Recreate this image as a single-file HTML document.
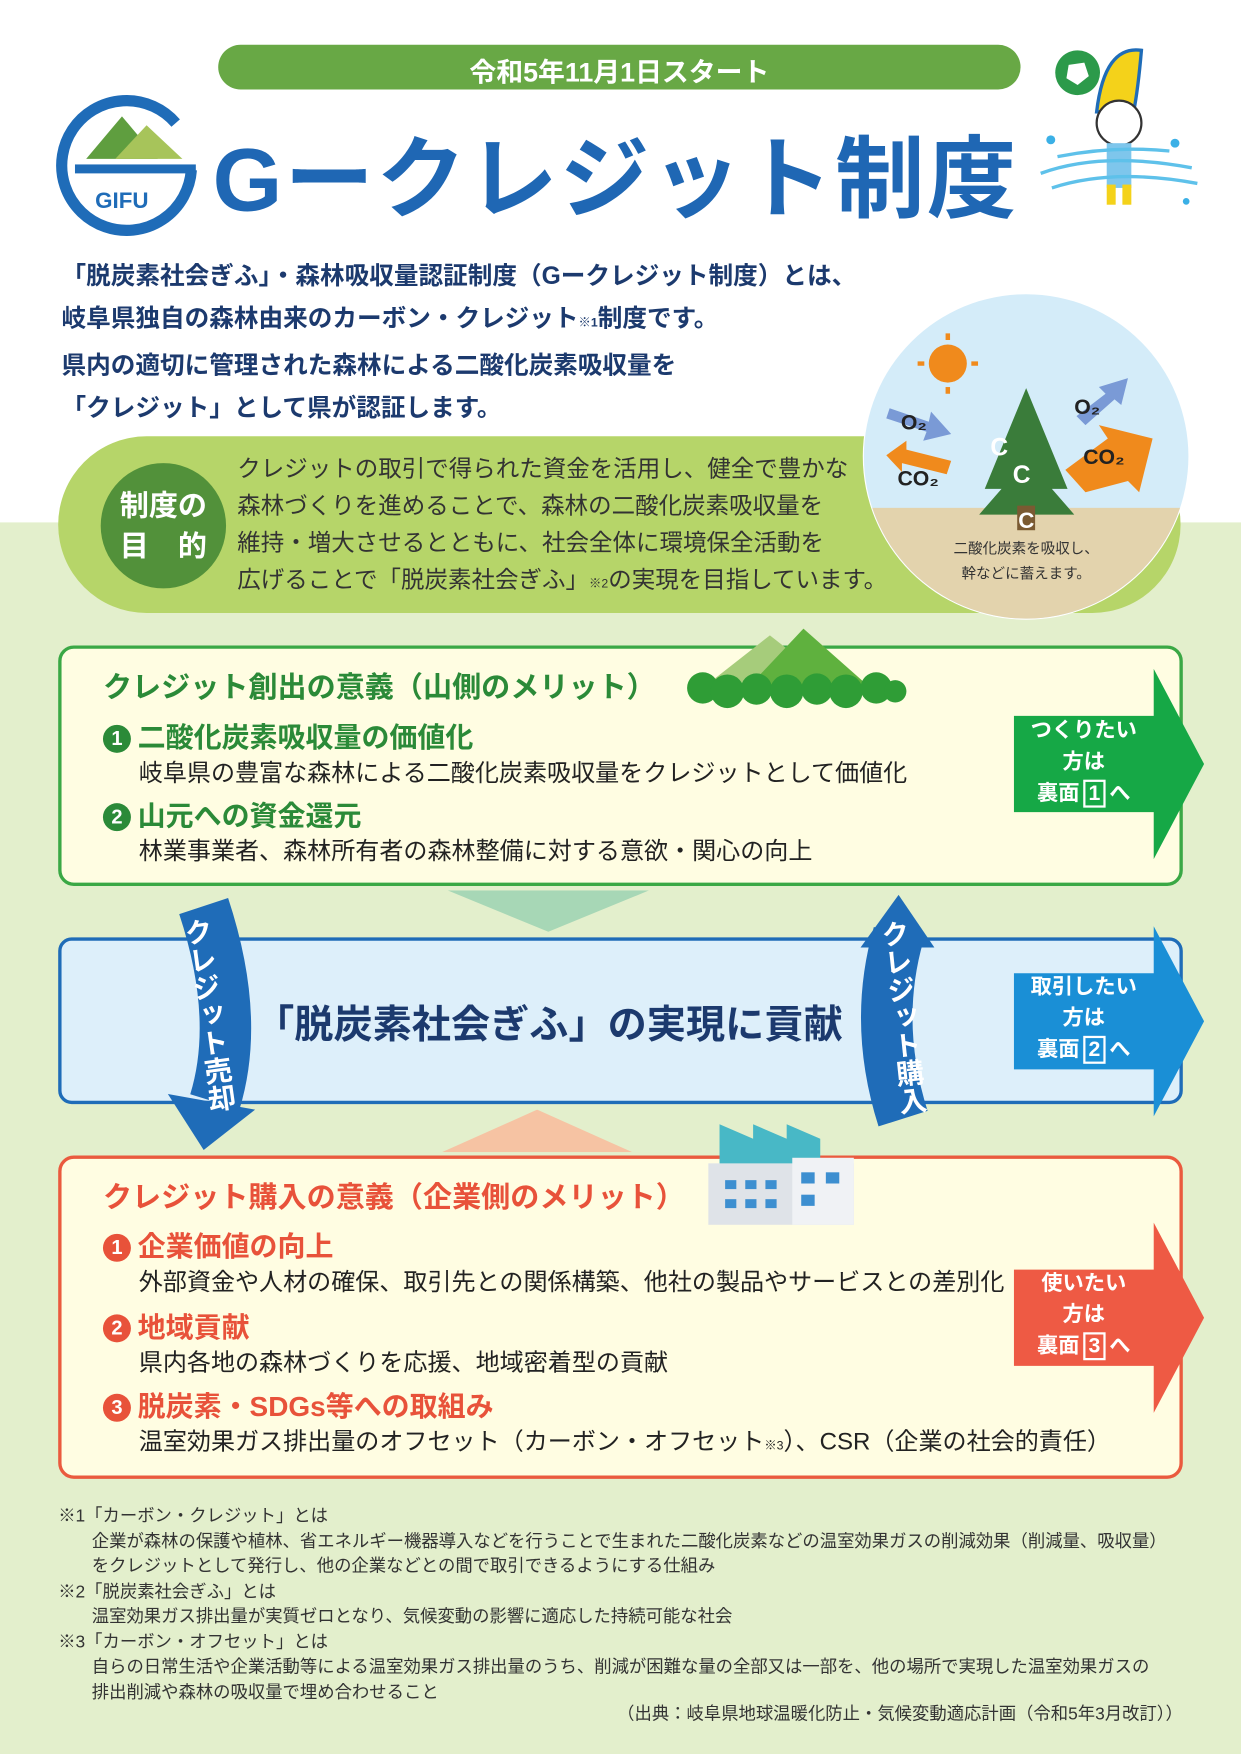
<!DOCTYPE html>
<html><head><meta charset="utf-8"><style>
html,body{margin:0;padding:0;background:#fff;}
body{width:1241px;height:1754px;overflow:hidden;position:relative;font-family:"Liberation Sans","Noto Sans CJK JP",sans-serif;}
#w{position:absolute;left:0;top:0;width:1109px;height:1568px;transform:scale(1.11903,1.11862);transform-origin:0 0;}
.a{position:absolute;white-space:nowrap;}
.b{font-weight:bold;}
.n{display:inline-block;width:25px;height:25px;border-radius:13px;color:#fff;font-size:18px;text-align:center;line-height:25px;vertical-align:2px;margin-right:6px}
</style></head><body><div id="w">
<div class="a" style="left:0;top:467px;width:1109px;height:1101px;background:#e3efcc"></div>
<div class="a" style="left:195px;top:40px;width:717px;height:40px;border-radius:20px;background:#68a845"></div>
<div class="a b" style="left:195px;top:45px;width:717px;text-align:center;color:#fff;font-size:24px;">令和5年11月1日スタート</div>
<svg class="a" style="left:45px;top:80px" width="140" height="135">
<path d="M112 30 A58 58 0 1 0 126 72" fill="none" stroke="#1f6cb8" stroke-width="10"/>
<polygon points="32,62 64,24 96,62" fill="#5f9e3f"/><polygon points="58,62 86,32 118,62" fill="#a7c45a"/>
<rect x="22" y="67" width="108" height="8" fill="#1f6cb8"/>
<text x="40" y="106" font-size="20" font-weight="bold" fill="#1f6cb8" font-family="Liberation Sans">GIFU</text>
</svg>
<div class="a b" style="left:190px;top:96px;font-size:80px;color:#1f67b4;letter-spacing:2px;">Gークレジット制度</div>
<svg class="a" style="left:925px;top:40px" width="150" height="150">
<circle cx="38" cy="25" r="20" fill="#2c9a4a"/><path d="M30 18 l14 -2 l4 12 l-10 8 l-10 -6z" fill="#fff"/>
<path d="M55 60 Q62 0 95 5 Q92 40 88 60z" fill="#f4d21a" stroke="#1f6cb8" stroke-width="3"/>
<circle cx="75" cy="70" r="20" fill="#fff" stroke="#333" stroke-width="2"/>
<rect x="64" y="88" width="22" height="40" fill="#7ec6ec"/><rect x="64" y="125" width="8" height="18" fill="#f4d21a"/><rect x="78" y="125" width="8" height="18" fill="#f4d21a"/>
<path d="M5 115 Q60 95 140 110 M15 128 Q70 110 145 124 M20 100 Q70 90 120 95" stroke="#5ec1ea" stroke-width="3" fill="none"/>
<circle cx="14" cy="85" r="4" fill="#3bb0e6"/><circle cx="125" cy="88" r="4" fill="#3bb0e6"/><circle cx="135" cy="140" r="3" fill="#3bb0e6"/>
</svg>
<div class="a b" style="left:55px;top:228px;font-size:22px;line-height:37.5px;color:#1c3a6e;">「脱炭素社会ぎふ」・森林吸収量認証制度（Gークレジット制度）とは、<br>岐阜県独自の森林由来のカーボン・クレジット<span style="font-size:11px">※1</span>制度です。<br>県内の適切に管理された森林による二酸化炭素吸収量を<br>「クレジット」として県が認証します。</div>
<div class="a" style="left:52px;top:390px;width:1003px;height:158px;border-radius:79px;background:#b6d569"></div>
<div class="a" style="left:90px;top:414px;width:112px;height:112px;border-radius:56px;background:#52913a"></div>
<div class="a b" style="left:90px;top:434px;width:112px;text-align:center;color:#fff;font-size:26px;line-height:36px;">制度の<br>目　的</div>
<div class="a" style="left:212px;top:403px;font-size:21px;line-height:33px;color:#333;">クレジットの取引で得られた資金を活用し、健全で豊かな<br>森林づくりを進めることで、森林の二酸化炭素吸収量を<br>維持・増大させるとともに、社会全体に環境保全活動を<br>広げることで「脱炭素社会ぎふ」<span style="font-size:11px">※2</span>の実現を目指しています。</div>
<svg class="a" style="left:770px;top:262px" width="295" height="295">
<defs><clipPath id="c"><circle cx="147" cy="146" r="145"/></clipPath></defs>
<circle cx="147" cy="146" r="146" fill="#fff"/>
<g clip-path="url(#c)"><rect width="295" height="295" fill="#d4ecf9"/><rect y="192" width="295" height="110" fill="#e3d3ad"/></g>
<circle cx="77" cy="63" r="17" fill="#f08a1c"/><g stroke="#f08a1c" stroke-width="4"><line x1="77" y1="36" x2="77" y2="42"/><line x1="77" y1="84" x2="77" y2="90"/><line x1="50" y1="63" x2="56" y2="63"/><line x1="98" y1="63" x2="104" y2="63"/></g>
<polygon points="147,85 110,175 125,175 105,198 190,198 170,175 184,175" fill="#3a7c3a"/>
<rect x="139" y="190" width="16" height="22" fill="#7a5a32"/>
<text x="115" y="145" font-size="22" fill="#fff" font-weight="bold">C</text><text x="135" y="170" font-size="22" fill="#fff" font-weight="bold">C</text><text x="140" y="210" font-size="20" fill="#fff" font-weight="bold">C</text>
<polygon points="25,103 60,115 62,106 80,126 55,132 58,124 22,112" fill="#7a9ad6"/>
<polygon points="192,110 218,90 212,84 238,76 232,100 226,95 200,118" fill="#7a9ad6"/>
<polygon points="22,145 40,132 40,140 80,150 76,162 36,152 36,160" fill="#f08a1c"/>
<polygon points="182,158 220,130 212,118 260,130 248,178 238,168 200,178" fill="#f08a1c"/>
<text x="35" y="122" font-size="19" font-weight="bold" fill="#222">O₂</text><text x="190" y="108" font-size="19" font-weight="bold" fill="#222">O₂</text>
<text x="32" y="172" font-size="19" font-weight="bold" fill="#222">CO₂</text><text x="198" y="153" font-size="19" font-weight="bold" fill="#222">CO₂</text>
<text x="147" y="233" font-size="13" fill="#333" text-anchor="middle">二酸化炭素を吸収し、</text><text x="147" y="255" font-size="13" fill="#333" text-anchor="middle">幹などに蓄えます。</text>
</svg>
<div class="a" style="left:52px;top:577px;width:999px;height:209px;border:3px solid #3aa845;border-radius:14px;background:#fffde2"></div>
<svg class="a" style="left:608px;top:560px" width="205" height="75"><polygon points="20,55 80,8 140,55" fill="#a6cc7b"/><polygon points="60,55 110,2 170,55" fill="#5fb13e"/><g fill="#2f9d36"><circle cx="20" cy="55" r="14"/><circle cx="42" cy="58" r="15"/><circle cx="68" cy="56" r="14"/><circle cx="95" cy="58" r="15"/><circle cx="122" cy="56" r="14"/><circle cx="148" cy="58" r="15"/><circle cx="175" cy="55" r="14"/><circle cx="192" cy="58" r="10"/></g></svg>
<div class="a b" style="left:92px;top:594px;font-size:26px;color:#2b8a38;">クレジット創出の意義（山側のメリット）</div>
<div class="a b" style="left:92px;top:640px;font-size:25px;color:#2b8a38;"><span class="n" style="background:#2b8a38">1</span>二酸化炭素吸収量の価値化</div>
<div class="a" style="left:124px;top:674px;font-size:21.5px;color:#222;">岐阜県の豊富な森林による二酸化炭素吸収量をクレジットとして価値化</div>
<div class="a b" style="left:92px;top:710px;font-size:25px;color:#2b8a38;"><span class="n" style="background:#2b8a38">2</span>山元への資金還元</div>
<div class="a" style="left:124px;top:744px;font-size:21.5px;color:#222;">林業事業者、森林所有者の森林整備に対する意欲・関心の向上</div>
<svg class="a" style="left:400px;top:796px" width="180" height="40"><polygon points="0,0 180,0 90,37" fill="#a7d7b6"/></svg>
<div class="a" style="left:52px;top:838px;width:999px;height:143px;border:3px solid #1f6cb8;border-radius:12px;background:#ddeffa"></div>
<div class="a b" style="left:228px;top:888px;font-size:35px;color:#1c3a6e;">「脱炭素社会ぎふ」の実現に貢献</div>
<svg class="a" style="left:395px;top:992px" width="170" height="38"><polygon points="0,38 170,38 85,0" fill="#f6c3a3"/></svg>
<div class="a" style="left:52px;top:1033px;width:999px;height:283px;border:3px solid #ea5a3e;border-radius:14px;background:#fffde2"></div>
<svg class="a" style="left:628px;top:1000px" width="140" height="95"><rect x="5" y="40" width="130" height="55" fill="#dfe3e8"/><polygon points="15,40 15,5 45,18 45,5 75,18 75,5 105,18 105,40" fill="#48b8c6"/><rect x="80" y="35" width="55" height="60" fill="#f0f2f5"/><g fill="#3d8fd0"><rect x="20" y="55" width="10" height="8"/><rect x="38" y="55" width="10" height="8"/><rect x="56" y="55" width="10" height="8"/><rect x="20" y="72" width="10" height="8"/><rect x="38" y="72" width="10" height="8"/><rect x="56" y="72" width="10" height="8"/><rect x="88" y="48" width="12" height="10"/><rect x="110" y="48" width="12" height="10"/><rect x="88" y="68" width="12" height="10"/></g></svg>
<div class="a b" style="left:92px;top:1050px;font-size:26px;color:#e8523a;">クレジット購入の意義（企業側のメリット）</div>
<div class="a b" style="left:92px;top:1095px;font-size:25px;color:#e8523a;"><span class="n" style="background:#e8523a">1</span>企業価値の向上</div>
<div class="a" style="left:124px;top:1129px;font-size:21.5px;color:#222;">外部資金や人材の確保、取引先との関係構築、他社の製品やサービスとの差別化</div>
<div class="a b" style="left:92px;top:1167px;font-size:25px;color:#e8523a;"><span class="n" style="background:#e8523a">2</span>地域貢献</div>
<div class="a" style="left:124px;top:1201px;font-size:21.5px;color:#222;">県内各地の森林づくりを応援、地域密着型の貢献</div>
<div class="a b" style="left:92px;top:1238px;font-size:25px;color:#e8523a;"><span class="n" style="background:#e8523a">3</span>脱炭素・SDGs等への取組み</div>
<div class="a" style="left:124px;top:1272px;font-size:21.5px;color:#222;">温室効果ガス排出量のオフセット（カーボン・オフセット<span style="font-size:11px">※3</span>）、CSR（企業の社会的責任）</div>
<svg class="a" style="left:906px;top:598px" width="172" height="172"><polygon points="0,42 125,42 125,0 170,85 125,170 125,128 0,128" fill="#16a846"/></svg>
<div class="a b" style="left:906px;top:640px;width:125px;text-align:center;color:#fff;font-size:19px;line-height:28px;">つくりたい<br>方は<br>裏面<span style="border:2px solid #fff;padding:0 3px;margin:0 3px">1</span>へ</div>
<svg class="a" style="left:906px;top:828px" width="172" height="172"><polygon points="0,42 125,42 125,0 170,85 125,170 125,128 0,128" fill="#1a8fd6"/></svg>
<div class="a b" style="left:906px;top:869px;width:125px;text-align:center;color:#fff;font-size:19px;line-height:28px;">取引したい<br>方は<br>裏面<span style="border:2px solid #fff;padding:0 3px;margin:0 3px">2</span>へ</div>
<svg class="a" style="left:906px;top:1093px" width="172" height="172"><polygon points="0,42 125,42 125,0 170,85 125,170 125,128 0,128" fill="#ee5a44"/></svg>
<div class="a b" style="left:906px;top:1134px;width:125px;text-align:center;color:#fff;font-size:19px;line-height:28px;">使いたい<br>方は<br>裏面<span style="border:2px solid #fff;padding:0 3px;margin:0 3px">3</span>へ</div>
<svg class="a" style="left:140px;top:800px" width="90" height="230"><path d="M42 10 Q75 110 52 185" stroke="#1f6cb8" stroke-width="46" fill="none"/><polygon points="10,178 88,192 42,228" fill="#1f6cb8"/></svg>
<div class="a b" style="left:168px;top:820px;writing-mode:vertical-rl;font-size:25px;color:#fff;transform:rotate(-8deg);">クレジット売却</div>
<svg class="a" style="left:755px;top:795px" width="90" height="215"><path d="M48 40 Q25 120 52 205" stroke="#1f6cb8" stroke-width="46" fill="none"/><polygon points="14,52 80,52 48,5" fill="#1f6cb8"/></svg>
<div class="a b" style="left:788px;top:822px;writing-mode:vertical-rl;font-size:25px;color:#fff;transform:rotate(-6deg);">クレジット購入</div>
<div class="a" style="left:52px;top:1345px;font-size:15.5px;line-height:22.5px;color:#333;">※1「カーボン・クレジット」とは<br><span style="padding-left:30px">企業が森林の保護や植林、省エネルギー機器導入などを行うことで生まれた二酸化炭素などの温室効果ガスの削減効果（削減量、吸収量）</span><br><span style="padding-left:30px">をクレジットとして発行し、他の企業などとの間で取引できるようにする仕組み</span><br>※2「脱炭素社会ぎふ」とは<br><span style="padding-left:30px">温室効果ガス排出量が実質ゼロとなり、気候変動の影響に適応した持続可能な社会</span><br>※3「カーボン・オフセット」とは<br><span style="padding-left:30px">自らの日常生活や企業活動等による温室効果ガス排出量のうち、削減が困難な量の全部又は一部を、他の場所で実現した温室効果ガスの</span><br><span style="padding-left:30px">排出削減や森林の吸収量で埋め合わせること</span></div>
<div class="a" style="right:52px;top:1520px;font-size:15.5px;color:#333;">（出典：岐阜県地球温暖化防止・気候変動適応計画（令和5年3月改訂））</div>
</div></body></html>
